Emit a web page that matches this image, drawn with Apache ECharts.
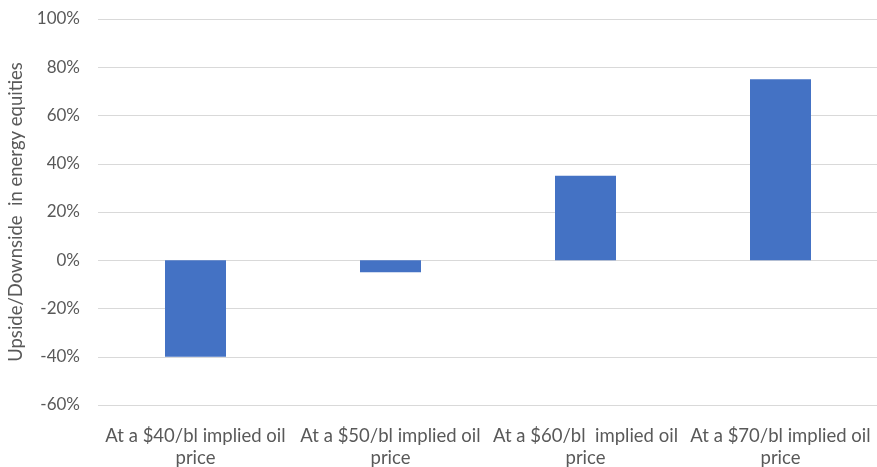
<!DOCTYPE html>
<html>
<head>
<meta charset="utf-8">
<script src="https://cdn.jsdelivr.net/npm/echarts@6/dist/echarts.min.js"></script>
<style>
html,body{margin:0;padding:0;background:#fff;}
#chart{width:877px;height:467px;}
</style>
</head>
<body>
<div id="chart"></div>
<script>
const categories = [
  "At a $40/bl implied oil\nprice",
  "At a $50/bl implied oil\nprice",
  "At a $60/bl  implied oil\nprice",
  "At a $70/bl implied oil\nprice"
];
const values = [-40, -5, 35, 75];
const yTicks = { min: -60, max: 100, interval: 20 };
const yAxisName = "Upside/Downside  in energy equities";

const FONT = "Lato";
const chart = echarts.init(document.getElementById('chart'));
chart.setOption({
  animation: false,
  grid: { left: 98, right: -1, top: 19, bottom: 62, containLabel: false, outerBoundsMode: 'none' },
  xAxis: {
    type: 'category',
    data: categories,
    axisLine: { show: false },
    axisTick: { show: false },
    axisLabel: {
      interval: 0,
      color: '#595959',
      fontFamily: FONT,
      fontSize: 18.5,
      lineHeight: 22,
      margin: 20
    }
  },
  yAxis: {
    type: 'value',
    min: yTicks.min,
    max: yTicks.max,
    interval: yTicks.interval,
    name: yAxisName,
    nameLocation: 'middle',
    nameGap: 72,
    nameTextStyle: { color: '#595959', fontFamily: FONT, fontSize: 18.5 },
    axisLine: { show: false },
    axisTick: { show: false },
    splitLine: { lineStyle: { color: '#d9d9d9', width: 1 } },
    axisLabel: {
      color: '#595959',
      fontFamily: FONT,
      fontSize: 17,
      margin: 18,
      formatter: v => v + '%'
    }
  },
  series: [{
    type: 'bar',
    data: values,
    barWidth: 61,
    itemStyle: { color: '#4472C4' }
  }]
});
</script>
</body>
</html>
